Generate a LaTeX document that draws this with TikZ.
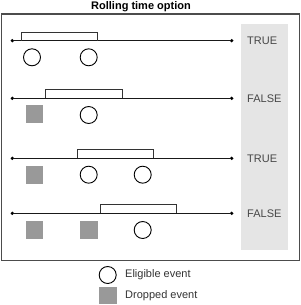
\documentclass[tikz,border=0pt]{standalone}
\usepackage{fontspec}
\setmainfont{Liberation Sans}
\begin{document}
\begin{tikzpicture}[x=1pt,y=-1pt,
  dotn/.style={circle,fill=black,inner sep=0pt,minimum size=3.6pt},
  eligible/.style={circle,draw=black,line width=0.9pt,minimum size=17pt,inner sep=0pt},
  dropped/.style={rectangle,fill=gray!80,minimum size=17.6pt,inner sep=0pt},
  lbl/.style={anchor=west,font=\fontsize{11}{13}\selectfont,text=black!72,inner sep=0pt},
  tl/.style={line width=0.9pt,black!90},
  brk/.style={line width=0.9pt,black!80}]
\useasboundingbox (0,0) rectangle (300,305);
\node[font=\bfseries\fontsize{11}{13}\selectfont,inner sep=0pt] (title) at (141,6.8) {Rolling time option};
\node[draw=black!70,line width=1.2pt,minimum width=298pt,minimum height=246pt,inner sep=0pt,anchor=north west] (frame) at (1,13.5) {};
\node[fill=black!10,minimum width=47pt,minimum height=225.7pt,inner sep=0pt,anchor=north west] (panel) at (240.7,24.3) {};
% row 1
\node[dotn] (l1a) at (12.3,40.7) {};
\node[dotn] (l1b) at (231.7,40.7) {};
\draw[tl] (l1a) -- (l1b);
\coordinate (b1a) at (21.7,40.7);
\coordinate (b1b) at (97.7,40.7);
\draw[brk] (b1a) -- ++(0,-8.4) -| (b1b);
\node[eligible] (e11) at (32,57.3) {};
\node[eligible] (e12) at (88.7,57.3) {};
\node[lbl] (t1) at (247,40.7) {TRUE};
% row 2
\node[dotn] (l2a) at (12.3,98.3) {};
\node[dotn] (l2b) at (231.7,98.3) {};
\draw[tl] (l2a) -- (l2b);
\coordinate (b2a) at (45.7,98.3);
\coordinate (b2b) at (122,98.3);
\draw[brk] (b2a) -- ++(0,-8.4) -| (b2b);
\node[dropped] (d21) at (34.5,114) {};
\node[eligible] (e22) at (88.7,115) {};
\node[lbl] (t2) at (247,98.3) {FALSE};
% row 3
\node[dotn] (l3a) at (12.3,158.3) {};
\node[dotn] (l3b) at (231.7,158.3) {};
\draw[tl] (l3a) -- (l3b);
\coordinate (b3a) at (77.7,158.3);
\coordinate (b3b) at (153.7,158.3);
\draw[brk] (b3a) -- ++(0,-8.4) -| (b3b);
\node[dropped] (d31) at (34.5,174.7) {};
\node[eligible] (e32) at (88.7,174.7) {};
\node[eligible] (e33) at (142.7,174.7) {};
\node[lbl] (t3) at (247,158.3) {TRUE};
% row 4
\node[dotn] (l4a) at (12.3,213.3) {};
\node[dotn] (l4b) at (231.7,213.3) {};
\draw[tl] (l4a) -- (l4b);
\coordinate (b4a) at (100.3,213.3);
\coordinate (b4b) at (176,213.3);
\draw[brk] (b4a) -- ++(0,-8.4) -| (b4b);
\node[dropped] (d41) at (34.5,230) {};
\node[dropped] (d42) at (88.7,230) {};
\node[eligible] (e43) at (142.7,230) {};
\node[lbl] (t4) at (247,213.3) {FALSE};
% legend
\node[eligible] (le) at (107.7,275) {};
\node[lbl,text=black!80] (lt1) at (125,275) {Eligible event};
\node[dropped] (ld) at (107.8,295.5) {};
\node[lbl,text=black!80] (lt2) at (125,295.5) {Dropped event};
\end{tikzpicture}
\end{document}
